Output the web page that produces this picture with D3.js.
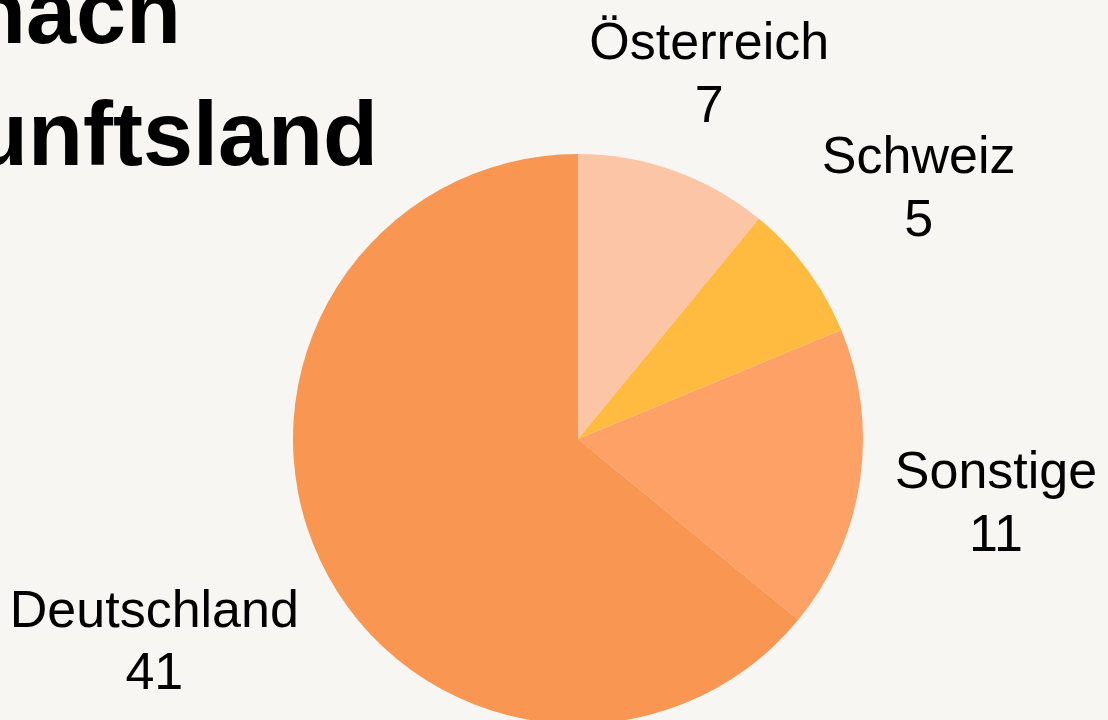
<!DOCTYPE html>
<html>
<head>
<meta charset="utf-8">
<script src="https://cdn.jsdelivr.net/npm/d3@7"></script>
<style>
  html, body { margin: 0; padding: 0; background: #f7f6f2; overflow: hidden; }
  svg { display: block; font-family: "Liberation Sans", Arial, sans-serif; }
</style>
</head>
<body>
<svg id="chart"></svg>
<script>
const categories = ["Österreich", "Schweiz", "Sonstige", "Deutschland"];
const values = [7, 5, 11, 41];
const colors = ["#fcc6a6", "#febb40", "#fda167", "#f99652"];
const titleLines = ["nach", "Herkunftsland"];

const width = 1108;
const height = 720;
const cx = 578;
const cy = 439;
const radius = 285;
const labelGap = 32;
const fontSize = 52;
const lineStep = 63;

const svg = d3.select("#chart")
    .attr("width", width)
    .attr("height", height)
    .attr("viewBox", [0, 0, width, height]);

// title, cut off on the left like in the original
const title = svg.append("g")
    .attr("font-weight", "bold")
    .attr("font-size", 90)
    .attr("text-anchor", "end");
title.append("text").attr("x", 181).attr("y", 43).text(titleLines[0]);
title.append("text").attr("x", 378).attr("y", 165).text(titleLines[1]);

const data = categories.map((c, i) => ({ name: c, value: values[i], color: colors[i] }));

const pie = d3.pie()
    .value(d => d.value)
    .sort(null);
const arcs = pie(data);

const arc = d3.arc()
    .innerRadius(0)
    .outerRadius(radius);

const g = svg.append("g").attr("transform", `translate(${cx},${cy})`);

g.selectAll("path")
    .data(arcs)
    .join("path")
    .attr("d", arc)
    .attr("fill", d => d.data.color);

// labels: placed along the mid angle, pushed out until the text block clears the circle
const labels = g.selectAll("g.label")
    .data(arcs)
    .join("g")
    .attr("class", "label")
    .attr("font-size", fontSize)
    .attr("text-anchor", "middle")
    .attr("fill", "#000");

labels.each(function(d) {
    const lab = d3.select(this);
    const blockH = fontSize * 0.716 + lineStep;
    const top = -blockH / 2;
    const t1 = lab.append("text").attr("y", top + fontSize * 0.716).text(d.data.name);
    lab.append("text").attr("y", top + fontSize * 0.716 + lineStep).text(d.data.value);
    const w = t1.node().getComputedTextLength();
    const mid = (d.startAngle + d.endAngle) / 2;
    const sx = Math.sin(mid), sy = -Math.cos(mid);
    const nearest = (dist) => {
        const x = dist * sx, y = dist * sy;
        const nx = Math.max(x - w / 2, Math.min(0, x + w / 2));
        const ny = Math.max(y + top, Math.min(0, y - top));
        return Math.hypot(nx, ny);
    };
    let lo = 0, hi = 800;
    for (let k = 0; k < 40; k++) {
        const m = (lo + hi) / 2;
        if (nearest(m) < radius + labelGap) lo = m; else hi = m;
    }
    lab.attr("transform", `translate(${hi * sx},${hi * sy})`);
});
</script>
</body>
</html>
